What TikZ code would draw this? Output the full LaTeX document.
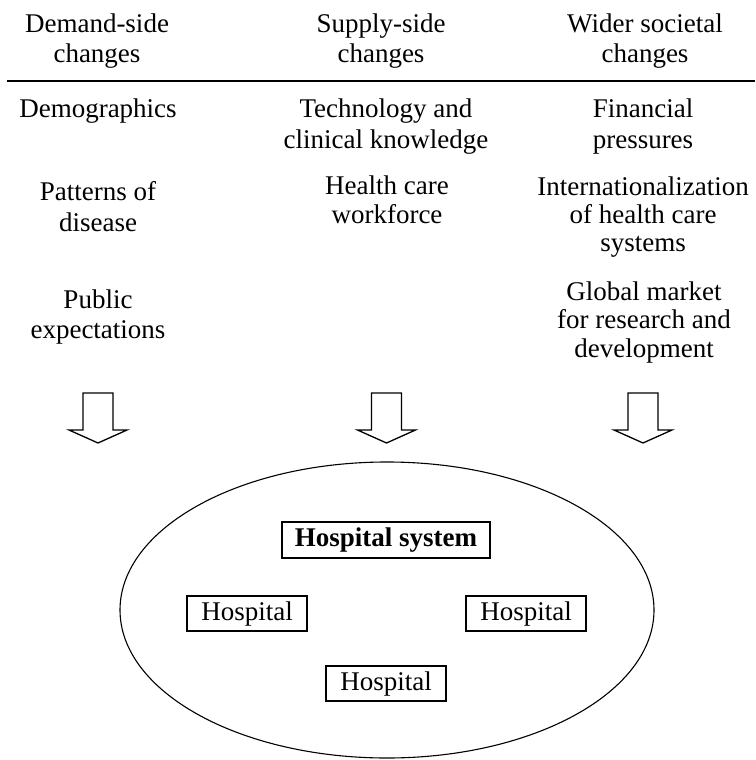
\documentclass[tikz,border=0pt]{standalone}
\usepackage{fontspec}
\setmainfont{Liberation Serif}
\usetikzlibrary{shapes.geometric}
\begin{document}
\begin{tikzpicture}[x=1pt,y=-1pt,
  txt/.style={anchor=base,inner sep=0pt,font=\fontsize{27}{29}\selectfont},
  hbox/.style={draw,line width=1.4pt,inner sep=0pt,minimum width=120pt,minimum height=35pt,font=\fontsize{27}{29}\selectfont},
  sbox/.style={draw,line width=1.4pt,inner sep=0pt,minimum width=208pt,minimum height=36pt,font=\fontsize{27}{29}\selectfont\bfseries},
  blockarrow/.style={draw,line width=1.3pt,fill=white,line join=miter}]
\useasboundingbox (0,0) rectangle (755,760);
% headers
\node[txt] (h1a) at (97,33) {Demand-side};
\node[txt] (h1b) at (97,63) {changes};
\node[txt] (h2a) at (381,33) {Supply-side};
\node[txt] (h2b) at (381,63) {changes};
\node[txt] (h3a) at (645,33) {Wider societal};
\node[txt] (h3b) at (645,63) {changes};
\draw[line width=1.6pt] (7,81) coordinate (ruleL) -- (755,81) coordinate (ruleR);
% column 1
\node[txt] (c1a) at (98,117) {Demographics};
\node[txt] (c1b) at (98,200) {Patterns of};
\node[txt] (c1c) at (98,231) {disease};
\node[txt] (c1d) at (98,308) {Public};
\node[txt] (c1e) at (98,338) {expectations};
% column 2
\node[txt] (c2a) at (386,117) {Technology and};
\node[txt] (c2b) at (386,148) {clinical knowledge};
\node[txt] (c2c) at (387,194) {Health care};
\node[txt] (c2d) at (387,223) {workforce};
% column 3
\node[txt] (c3a) at (643,117) {Financial};
\node[txt] (c3b) at (643,148) {pressures};
\node[txt] (c3c) at (643,195) {Internationalization};
\node[txt] (c3d) at (643,223) {of health care};
\node[txt] (c3e) at (643,251) {systems};
\node[txt] (c3f) at (644,300) {Global market};
\node[txt] (c3g) at (644,328) {for research and};
\node[txt] (c3h) at (644,357) {development};
% block arrows
\foreach \cx/\nm in {98/a1,386.5/a2,643/a3}{
  \draw[blockarrow] (\cx-15,393) -- (\cx-15,430) -- (\cx-29,430) -- (\cx,443)
    -- (\cx+29,430) -- (\cx+15,430) -- (\cx+15,393) -- cycle;
}
% ellipse and hospitals
\node[ellipse,draw,line width=1.1pt,minimum width=534pt,minimum height=296pt,inner sep=0pt] (sys) at (387,610) {};
\node[sbox] (hs) at (386,540) {Hospital system};
\node[hbox] (hl) at (247,613.5) {Hospital};
\node[hbox] (hr) at (526,613.5) {Hospital};
\node[hbox] (hb) at (386,683.5) {Hospital};
\end{tikzpicture}
\end{document}
